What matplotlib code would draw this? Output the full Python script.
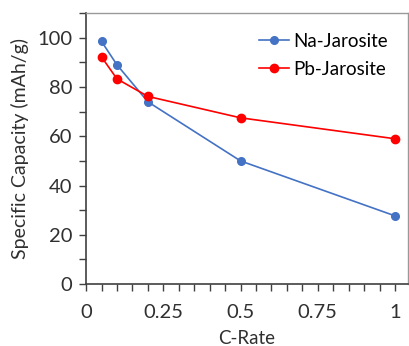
import matplotlib.pyplot as plt
from matplotlib.ticker import MultipleLocator, FuncFormatter

plt.rcParams['font.family'] = ['Lato', 'DejaVu Sans']

# C-rate values and capacities
c_rate = [0.05, 0.1, 0.2, 0.5, 1.0]
na_cap = [98.5, 89.0, 74.0, 50.0, 27.7]
pb_cap = [92.2, 83.3, 76.2, 67.5, 59.0]

fig = plt.figure(figsize=(4.10, 3.46), dpi=100)
ax = fig.add_axes([0.210, 0.179, 0.785, 0.783])

ax.plot(c_rate, na_cap, color='#4472C4', marker='o', markersize=5.5, lw=1.2, label='Na-Jarosite')
ax.plot(c_rate, pb_cap, color='#FF0000', marker='o', markersize=6, lw=1.2, label='Pb-Jarosite')

ax.set_xlim(0, 1.042)
ax.set_ylim(0, 110)
ax.xaxis.set_major_locator(MultipleLocator(0.25))
ax.xaxis.set_minor_locator(MultipleLocator(0.05))
ax.yaxis.set_major_locator(MultipleLocator(20))
ax.yaxis.set_minor_locator(MultipleLocator(10))
ax.xaxis.set_major_formatter(FuncFormatter(lambda v, p: ('%g' % v)))
ax.tick_params(which='both', direction='out', colors='#404040', labelcolor='#303030', labelsize=14.5)
ax.tick_params(which='major', length=5, width=1)
ax.tick_params(which='minor', length=5, width=1)
ax.tick_params(axis='x', pad=9)
ax.tick_params(axis='y', pad=5)

for side in ['left', 'bottom']:
    ax.spines[side].set_color('#404040')
    ax.spines[side].set_linewidth(1.2)
for side in ['top', 'right']:
    ax.spines[side].set_color('#999999')
    ax.spines[side].set_linewidth(1)

ax.set_xlabel('C-Rate', fontsize=13.5, color='#303030', labelpad=7)
ax.set_ylabel('Specific Capacity (mAh/g)', fontsize=14, color='#303030', labelpad=6)

ax.legend(loc='upper right', frameon=False, fontsize=13.5, handlelength=1.6,
          handletextpad=0.2, labelspacing=0.6, bbox_to_anchor=(0.99, 0.99))

fig.savefig('out.png', dpi=100)
